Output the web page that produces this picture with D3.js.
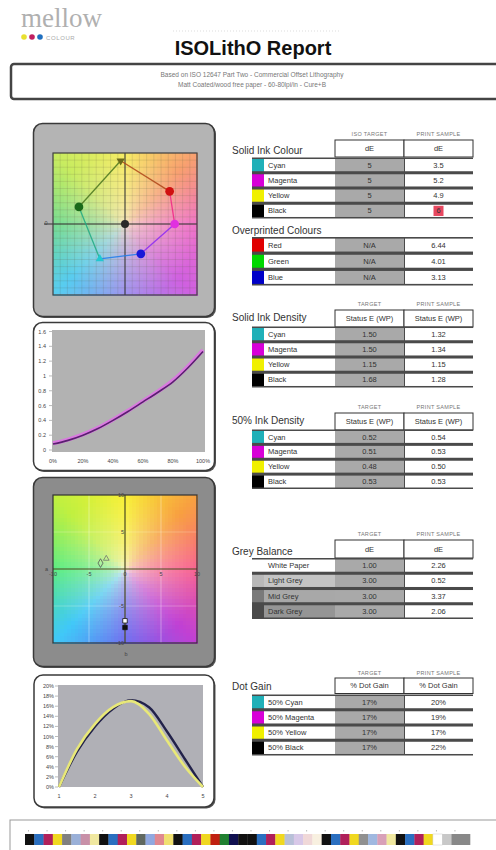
<!DOCTYPE html>
<html lang="en">
<head>
<meta charset="utf-8">
<title>ISOLithO Report</title>
<script src="https://d3js.org/d3.v7.min.js"></script>
<style>
  body { margin:0; background:#fff; }
  svg { display:block; width:496px; height:850px; font-family:"Liberation Sans", Arial, sans-serif; }
  .tbl-title { font-size:10px; fill:#333; }
  .cell { font-size:7.5px; fill:#333; }
  .hdr { font-size:5.5px; fill:#777; letter-spacing:0.3px; }
  .tick { font-size:5.5px; fill:#444; }
</style>
</head>
<body>
<svg></svg>
<script>
// ---- table data ----
const inkNames = ["Cyan", "Magenta", "Yellow", "Black"];
const inkColours = ["#20b0b8", "#d800d8", "#f0f000", "#000000"];
const solidColourTarget = ["5", "5", "5", "5"];
const solidColourSample = ["3.5", "5.2", "4.9", "6"];
const overprintNames = ["Red", "Green", "Blue"];
const overprintColours = ["#e00000", "#00d800", "#0000c8"];
const overprintTarget = ["N/A", "N/A", "N/A"];
const overprintSample = ["6.44", "4.01", "3.13"];
const solidDensityTarget = ["1.50", "1.50", "1.15", "1.68"];
const solidDensitySample = ["1.32", "1.34", "1.15", "1.28"];
const halfDensityTarget = ["0.52", "0.51", "0.48", "0.53"];
const halfDensitySample = ["0.54", "0.53", "0.50", "0.53"];
const greyNames = ["White Paper", "Light Grey", "Mid Grey", "Dark Grey"];
const greySwatches = ["#ffffff", "#b8b8b8", "#7a7a7a", "#4a4a4a"];
const greyTarget = ["1.00", "3.00", "3.00", "3.00"];
const greySample = ["2.26", "0.52", "3.37", "2.06"];
const dotGainNames = ["50% Cyan", "50% Magenta", "50% Yellow", "50% Black"];
const dotGainTarget = ["17%", "17%", "17%", "17%"];
const dotGainSample = ["20%", "19%", "17%", "22%"];

// ---- gamut plot (a*, b*) ----
const gamutNames = ["Yellow", "Red", "Magenta", "Blue", "Cyan", "Green"];
const gamutA = [-6, 62, 69, 22, -35, -64];
const gamutB = [89, 46, 0, -42, -49, 24];
const gamutMarks = ["#6a6a1a", "#d01010", "#e030e0", "#1818d8", "#20c8d0", "#1a6a1a"];

// ---- tone curve ----
const tintPct = [0, 10, 20, 30, 40, 50, 60, 70, 80, 90, 100];
const curveTarget = [0.09, 0.14, 0.21, 0.30, 0.41, 0.53, 0.66, 0.79, 0.94, 1.13, 1.35];
const curveSample = [0.08, 0.13, 0.20, 0.29, 0.40, 0.52, 0.65, 0.78, 0.92, 1.11, 1.33];
const curveTicksY = [0, 0.2, 0.4, 0.6, 0.8, 1, 1.2, 1.4, 1.6];
const curveTicksX = [0, 20, 40, 60, 80, 100];

// ---- grey balance plot ----
const greyA = [-3.4, -2.6, 0, 0];
const greyB = [0.8, 1.4, -7.0, -7.9];
const greyTicks = [-10, -5, 0, 5, 10];

// ---- dot gain plot ----
const gainX = [1, 1.5, 2, 2.5, 3, 3.5, 4, 4.5, 5];
const gainYellow = [0, 7.5, 12.5, 15.8, 17, 14.5, 9.2, 4, 0];
const gainBlack = [0, 7, 12, 15.5, 17.2, 15.8, 11, 5.5, 0];
const gainTicksY = [0, 2, 4, 6, 8, 10, 12, 14, 16, 18, 20];
const gainTicksX = [1, 2, 3, 4, 5];

// ---- colour bar ----
const barColours = [
  "#111", "#2a6fc0", "#b0205a", "#f0d820", "#808080", "#9ab0d8", "#c890a8", "#f0e8a0",
  "#111", "#2a6fc0", "#b0205a", "#f0d820", "#606860", "#90a8e0", "#e08890", "#f0e070",
  "#111", "#2a6fc0", "#b0205a", "#f0d820", "#c02010", "#208030", "#101050", "#111",
  "#111", "#2a6fc0", "#b0205a", "#f0d820", "#b8c0d8", "#d8c8e8", "#f0d8d8", "#f8f0e0",
  "#111", "#2a6fc0", "#b0205a", "#f0d820", "#909090", "#a0b8e0", "#d8a0b8", "#f0e8a0",
  "#111", "#2a6fc0", "#b0205a", "#f0d820", "#ffffff", "#c8c8c8", "#888888", "#888888"
];

const svg = d3.select("svg");

// ================= header =================
svg.append("text").attr("x", 21).attr("y", 27)
   .attr("font-family", "'Liberation Serif', serif").attr("font-size", 27)
   .attr("fill", "#b0b0b0").text("mellow");
[["#e8e030", 24], ["#c02060", 32], ["#2070c0", 40]].forEach(d => {
  svg.append("circle").attr("cx", d[1]).attr("cy", 37).attr("r", 2.8).attr("fill", d[0]);
});
svg.append("text").attr("x", 46).attr("y", 39.5).attr("font-size", 6).attr("fill", "#aaa")
   .attr("letter-spacing", 0.6).text("COLOUR");

svg.append("line").attr("x1", 173).attr("x2", 340).attr("y1", 31).attr("y2", 31)
   .attr("stroke", "#ddd").attr("stroke-dasharray", "1,2");
svg.append("text").attr("x", 253).attr("y", 55).attr("text-anchor", "middle")
   .attr("font-size", 20).attr("font-weight", "bold").attr("fill", "#111")
   .text("ISOLithO Report");

svg.append("rect").attr("x", 11).attr("y", 64).attr("width", 500).attr("height", 35)
   .attr("rx", 3).attr("fill", "#fff").attr("stroke", "#444").attr("stroke-width", 2.5);
svg.append("text").attr("x", 252).attr("y", 77).attr("text-anchor", "middle")
   .attr("font-size", 6.5).attr("fill", "#777")
   .text("Based on ISO 12647 Part Two - Commercial Offset Lithography");
svg.append("text").attr("x", 252).attr("y", 87).attr("text-anchor", "middle")
   .attr("font-size", 6.5).attr("fill", "#777")
   .text("Matt Coated/wood free paper - 60-80lpi/in - Cure+B");

// ================= panel frames =================
function frame(x, y, w, h, fill) {
  svg.append("rect").attr("x", x + 1.5).attr("y", y + 1.5).attr("width", w).attr("height", h)
     .attr("rx", 9).attr("fill", "#555");
  svg.append("rect").attr("x", x).attr("y", y).attr("width", w).attr("height", h)
     .attr("rx", 9).attr("fill", fill).attr("stroke", "#3a3a3a").attr("stroke-width", 1.5);
}
frame(33.5, 123.5, 181, 193, "#b4b4b4");
frame(33.5, 322.5, 181, 148, "#fff");
frame(33.5, 477.5, 181, 189, "#8c8c8c");
frame(34, 675, 180, 132, "#fff");

// colour plane: hue picked by angle from 8 anchors (0deg = +a, counter-clockwise),
// washed toward a pale centre near the origin
function planeColour(u, v, pal) {
  let ang = Math.atan2(v, u) * 180 / Math.PI;
  if (ang < 0) ang += 360;
  const k = Math.floor(ang / 45) % 8;
  const hue = d3.interpolateRgb(pal.ring[k], pal.ring[(k + 1) % 8])((ang - k * 45) / 45);
  const r = Math.min(1, Math.sqrt(u * u + v * v) / 1.05);
  return d3.interpolateRgb(pal.centre, hue)(Math.pow(r, pal.gamma));
}
function abPlane(g, x, y, step, pal) {
  const d = x.domain();
  const half = d[1];
  const cells = [];
  d3.range(d[0], d[1], step).forEach(a => {
    d3.range(d[0], d[1], step).forEach(b => cells.push([a, b]));
  });
  g.selectAll("rect.cell-bg").data(cells).join("rect")
   .attr("class", "cell-bg")
   .attr("x", c => x(c[0])).attr("y", c => y(c[1] + step))
   .attr("width", x(step) - x(0) + 0.6).attr("height", y(0) - y(step) + 0.6)
   .attr("shape-rendering", "crispEdges")
   .attr("fill", c => planeColour((c[0] + step / 2) / half, (c[1] + step / 2) / half, pal));
}

// ================= panel 1: gamut =================
const abX = d3.scaleLinear().domain([-100, 100]).range([53, 197]);
const abY = d3.scaleLinear().domain([-100, 100]).range([295, 153]);
const g1 = svg.append("g");
abPlane(g1, abX, abY, 5, {
  ring: ["#f070c8", "#f8a070", "#f6ec60", "#c8ec60", "#70dc90", "#58ccf0", "#9a90f0", "#d060e0"],
  centre: "#f4e4c8", gamma: 0.6
});
d3.range(-100, 101, 10).forEach(v => {
  g1.append("line").attr("x1", abX(v)).attr("x2", abX(v)).attr("y1", 153).attr("y2", 295)
    .attr("stroke", "#5a5a40").attr("stroke-opacity", 0.3).attr("stroke-width", 0.5);
  g1.append("line").attr("y1", abY(v)).attr("y2", abY(v)).attr("x1", 53).attr("x2", 197)
    .attr("stroke", "#5a5a40").attr("stroke-opacity", 0.3).attr("stroke-width", 0.5);
});
g1.append("line").attr("x1", abX(0)).attr("x2", abX(0)).attr("y1", 153).attr("y2", 295)
  .attr("stroke", "#333").attr("stroke-width", 1);
g1.append("line").attr("y1", abY(0)).attr("y2", abY(0)).attr("x1", 44).attr("x2", 197)
  .attr("stroke", "#333").attr("stroke-width", 1);
g1.append("rect").attr("x", 53).attr("y", 153).attr("width", 144).attr("height", 142)
  .attr("fill", "none").attr("stroke", "#444").attr("stroke-width", 1.2);
g1.append("text").attr("class", "tick").attr("x", 46).attr("y", 225).attr("text-anchor", "middle").text("0");

gamutNames.forEach((n, i) => {
  const j = (i + 1) % gamutNames.length;
  const c = d3.color(d3.interpolateRgb(gamutMarks[i], gamutMarks[j])(0.5)).brighter(0.3);
  g1.append("line").attr("x1", abX(gamutA[i])).attr("y1", abY(gamutB[i]))
    .attr("x2", abX(gamutA[j])).attr("y2", abY(gamutB[j]))
    .attr("stroke", c.formatHex()).attr("stroke-width", 1.3).attr("stroke-opacity", 0.85);
});
gamutNames.forEach((n, i) => {
  const tri = (n === "Yellow" || n === "Cyan");
  g1.append("path")
    .attr("d", d3.symbol().type(tri ? d3.symbolTriangle : d3.symbolCircle).size(tri ? 30 : 60)())
    .attr("transform", `translate(${abX(gamutA[i])},${abY(gamutB[i])})` + (n === "Yellow" ? " rotate(180)" : ""))
    .attr("fill", gamutMarks[i]);
});
g1.append("circle").attr("cx", abX(0)).attr("cy", abY(0)).attr("r", 4).attr("fill", "#2a2a2a");

// ================= panel 2: tone curve =================
const cX = d3.scaleLinear().domain([0, 100]).range([53, 203]);
const cY = d3.scaleLinear().domain([0, 1.6]).range([450, 331.5]);
const g2 = svg.append("g");
g2.append("rect").attr("x", 52).attr("y", 330).attr("width", 153).attr("height", 122).attr("fill", "#b2b2b2");
curveTicksY.forEach(t => {
  g2.append("text").attr("class", "tick").attr("x", 46).attr("y", cY(t) + 2)
    .attr("text-anchor", "end").text(t);
  g2.append("line").attr("x1", 49).attr("x2", 52).attr("y1", cY(t)).attr("y2", cY(t)).attr("stroke", "#777").attr("stroke-width", 0.5);
});
curveTicksX.forEach(t => {
  g2.append("text").attr("class", "tick").attr("x", cX(t)).attr("y", 463)
    .attr("text-anchor", "middle").text(t + "%");
});
const cLine = d3.line().x((d, i) => cX(tintPct[i])).y(d => cY(d)).curve(d3.curveMonotoneX);
g2.append("path").attr("d", cLine(curveTarget)).attr("fill", "none")
  .attr("stroke", "#e070e8").attr("stroke-width", 4).attr("stroke-opacity", 0.85);
g2.append("path").attr("d", cLine(curveSample)).attr("fill", "none")
  .attr("stroke", "#5a2070").attr("stroke-width", 1.6);

// ================= panel 3: grey balance =================
const gX = d3.scaleLinear().domain([-10, 10]).range([53, 197]);
const gY = d3.scaleLinear().domain([-10, 10]).range([643, 495]);
const g3 = svg.append("g");
abPlane(g3, gX, gY, 0.5, {
  ring: ["#f86090", "#f8a040", "#f8f030", "#c0f040", "#58ec80", "#40c8f8", "#6a6af0", "#c040d4"],
  centre: "#f6f4e4", gamma: 0.45
});
[-5, 5].forEach(v => {
  g3.append("line").attr("x1", gX(v)).attr("x2", gX(v)).attr("y1", 495).attr("y2", 643)
    .attr("stroke", "#fff").attr("stroke-opacity", 0.45).attr("stroke-width", 0.8);
  g3.append("line").attr("y1", gY(v)).attr("y2", gY(v)).attr("x1", 53).attr("x2", 197)
    .attr("stroke", "#fff").attr("stroke-opacity", 0.3).attr("stroke-width", 0.8);
});
g3.append("line").attr("x1", gX(0)).attr("x2", gX(0)).attr("y1", 495).attr("y2", 643)
  .attr("stroke", "#4a4a20").attr("stroke-width", 1.2);
g3.append("line").attr("y1", gY(0)).attr("y2", gY(0)).attr("x1", 53).attr("x2", 197)
  .attr("stroke", "#4a4a20").attr("stroke-width", 1.2);
g3.append("rect").attr("x", 53).attr("y", 495).attr("width", 144).attr("height", 148)
  .attr("fill", "none").attr("stroke", "#333").attr("stroke-width", 1.2);
greyTicks.forEach(t => {
  g3.append("text").attr("class", "tick").attr("x", gX(t)).attr("y", 576)
    .attr("text-anchor", "middle").attr("fill", "#444").text(t);
  if (t !== 0) g3.append("text").attr("class", "tick").attr("x", 124).attr("y", gY(t) + 2)
    .attr("text-anchor", "end").text(t);
});
g3.append("text").attr("class", "tick").attr("x", 45).attr("y", 571).attr("fill", "#ddd").text("a");
g3.append("text").attr("class", "tick").attr("x", 126).attr("y", 656).attr("text-anchor", "middle").attr("fill", "#ddd").text("b");
greyA.forEach((a, i) => {
  const p = g3.append("path").attr("transform", `translate(${gX(a)},${gY(greyB[i])})`);
  if (i === 0) p.attr("d", d3.symbol().type(d3.symbolDiamond).size(22)()).attr("fill", "none").attr("stroke", "#555").attr("stroke-width", 0.8);
  else if (i === 1) p.attr("d", d3.symbol().type(d3.symbolTriangle).size(14)()).attr("fill", "none").attr("stroke", "#666").attr("stroke-width", 0.7);
  else p.attr("d", d3.symbol().type(d3.symbolSquare).size(20)()).attr("fill", i === 2 ? "#fff" : "#111").attr("stroke", "#111").attr("stroke-width", 0.8);
});

// ================= panel 4: dot gain =================
const dX = d3.scaleLinear().domain([1, 5]).range([59, 203]);
const dY = d3.scaleLinear().domain([0, 20]).range([787, 686]);
const g4 = svg.append("g");
g4.append("rect").attr("x", 58).attr("y", 685).attr("width", 145).attr("height", 102).attr("fill", "#b0b0b6");
gainTicksY.forEach(t => {
  g4.append("text").attr("class", "tick").attr("x", 54).attr("y", dY(t) + 2)
    .attr("text-anchor", "end").text(t + "%");
  g4.append("line").attr("x1", 55).attr("x2", 58).attr("y1", dY(t)).attr("y2", dY(t)).attr("stroke", "#777").attr("stroke-width", 0.5);
});
gainTicksX.forEach(t => {
  g4.append("text").attr("class", "tick").attr("x", dX(t)).attr("y", 798)
    .attr("text-anchor", "middle").text(t);
});
const dLine = d3.line().x((d, i) => dX(gainX[i])).y(d => dY(d)).curve(d3.curveMonotoneX);
g4.append("path").attr("d", dLine(gainBlack)).attr("fill", "none")
  .attr("stroke", "#22224a").attr("stroke-width", 2.4);
g4.append("path").attr("d", dLine(gainYellow)).attr("fill", "none")
  .attr("stroke", "#e8e878").attr("stroke-width", 2.6);

// ================= tables =================
const colX = { sw: 252, lab: 264, tgt: 335, smp: 404, end: 473 };

function drawTable(cfg) {
  const g = svg.append("g");
  if (cfg.hdrY) {
    g.append("text").attr("class", "hdr").attr("x", (colX.tgt + colX.smp) / 2).attr("y", cfg.hdrY)
      .attr("text-anchor", "middle").text(cfg.hdrLeft);
    g.append("text").attr("class", "hdr").attr("x", (colX.smp + colX.end) / 2).attr("y", cfg.hdrY)
      .attr("text-anchor", "middle").text("PRINT SAMPLE");
    [colX.tgt, colX.smp].forEach(x => {
      g.append("rect").attr("x", x).attr("y", cfg.boxY).attr("width", 69).attr("height", cfg.boxH)
        .attr("fill", "#fff").attr("stroke", "#333").attr("stroke-width", 1);
      g.append("text").attr("class", "cell").attr("x", x + 34.5).attr("y", cfg.boxY + cfg.boxH / 2 + 2.5)
        .attr("text-anchor", "middle").attr("fill", "#666").attr("font-size", cfg.unitSize || 7)
        .text(cfg.unit);
    });
  }
  g.append("text").attr("class", "tbl-title").attr("x", 232).attr("y", cfg.titleY).text(cfg.title);

  const y = d3.scaleBand().domain(cfg.names).range([cfg.rowTop, cfg.rowBottom]).paddingInner(0.2).paddingOuter(0.1);
  g.append("rect").attr("x", colX.sw).attr("y", cfg.rowTop).attr("width", colX.end - colX.sw)
    .attr("height", cfg.rowBottom - cfg.rowTop).attr("fill", "#4a4a4a");
  cfg.names.forEach((n, i) => {
    const ry = y(n), h = y.bandwidth();
    g.append("rect").attr("x", colX.sw).attr("y", ry).attr("width", colX.lab - colX.sw).attr("height", h)
      .attr("fill", cfg.swatches[i]);
    g.append("rect").attr("x", colX.lab).attr("y", ry).attr("width", colX.tgt - colX.lab).attr("height", h)
      .attr("fill", cfg.labelFills ? cfg.labelFills[i] : "#fff");
    g.append("rect").attr("x", colX.tgt).attr("y", ry).attr("width", colX.smp - colX.tgt).attr("height", h)
      .attr("fill", "#a9a9a9");
    g.append("rect").attr("x", colX.smp + 1).attr("y", ry).attr("width", colX.end - colX.smp - 1).attr("height", h)
      .attr("fill", "#fff");
    g.append("text").attr("class", "cell").attr("x", colX.lab + 4).attr("y", ry + h / 2 + 2.6).text(n);
    g.append("text").attr("class", "cell").attr("x", (colX.tgt + colX.smp) / 2).attr("y", ry + h / 2 + 2.6)
      .attr("text-anchor", "middle").text(cfg.target[i]);
    if (cfg.flag && cfg.flag[i]) {
      g.append("rect").attr("x", (colX.smp + colX.end) / 2 - 5).attr("y", ry + 1).attr("width", 10).attr("height", h - 2)
        .attr("fill", "#e84860");
    }
    g.append("text").attr("class", "cell").attr("x", (colX.smp + colX.end) / 2).attr("y", ry + h / 2 + 2.6)
      .attr("text-anchor", "middle").attr("fill", cfg.flag && cfg.flag[i] ? "#fff" : "#333").text(cfg.sample[i]);
  });
}

drawTable({ title: "Solid Ink Colour", titleY: 154, hdrY: 136, hdrLeft: "ISO TARGET", boxY: 140, boxH: 17, unit: "dE",
  names: inkNames, swatches: inkColours, target: solidColourTarget, sample: solidColourSample,
  rowTop: 157.5, rowBottom: 218.5, flag: [false, false, false, true] });
drawTable({ title: "Overprinted Colours", titleY: 234,
  names: overprintNames, swatches: overprintColours, target: overprintTarget, sample: overprintSample,
  rowTop: 237, rowBottom: 285.5 });
drawTable({ title: "Solid Ink Density", titleY: 321, hdrY: 306, hdrLeft: "TARGET", boxY: 310, boxH: 17, unit: "Status E (WP)", unitSize: 6.5,
  names: inkNames, swatches: inkColours, target: solidDensityTarget, sample: solidDensitySample,
  rowTop: 326.5, rowBottom: 387.5 });
drawTable({ title: "50% Ink Density", titleY: 424, hdrY: 409, hdrLeft: "TARGET", boxY: 413, boxH: 17, unit: "Status E (WP)", unitSize: 6.5,
  names: inkNames, swatches: inkColours, target: halfDensityTarget, sample: halfDensitySample,
  rowTop: 429.5, rowBottom: 489 });
drawTable({ title: "Grey Balance", titleY: 555, hdrY: 536, hdrLeft: "TARGET", boxY: 540, boxH: 18, unit: "dE",
  names: greyNames, swatches: greySwatches, labelFills: ["#fff", "#c4c4c4", "#a8a8a8", "#959595"],
  target: greyTarget, sample: greySample, rowTop: 558, rowBottom: 619 });
drawTable({ title: "Dot Gain", titleY: 690, hdrY: 675, hdrLeft: "TARGET", boxY: 678, boxH: 15.5, unit: "% Dot Gain", unitSize: 6.5,
  names: dotGainNames, swatches: inkColours, target: dotGainTarget, sample: dotGainSample,
  rowTop: 694.5, rowBottom: 755.5 });

// ================= colour bar =================
svg.append("rect").attr("x", 10).attr("y", 820).attr("width", 495).attr("height", 40)
   .attr("fill", "#fff").attr("stroke", "#999").attr("stroke-width", 1);
const bx = d3.scaleBand().domain(d3.range(barColours.length)).range([25, 470]);
svg.append("g").selectAll("rect").data(barColours).join("rect")
   .attr("x", (d, i) => bx(i)).attr("y", 834).attr("width", bx.bandwidth() + 0.3).attr("height", 11)
   .attr("fill", d => d).attr("stroke", d => d === "#ffffff" ? "#ccc" : "none").attr("stroke-width", 0.5);
svg.append("g").selectAll("rect").data(barColours.filter((d, i) => i % 2 === 0)).join("rect")
   .attr("x", (d, i) => bx(i * 2) + 3).attr("y", 830).attr("width", 1).attr("height", 1.5).attr("fill", "#bbb");
</script>
</body>
</html>
